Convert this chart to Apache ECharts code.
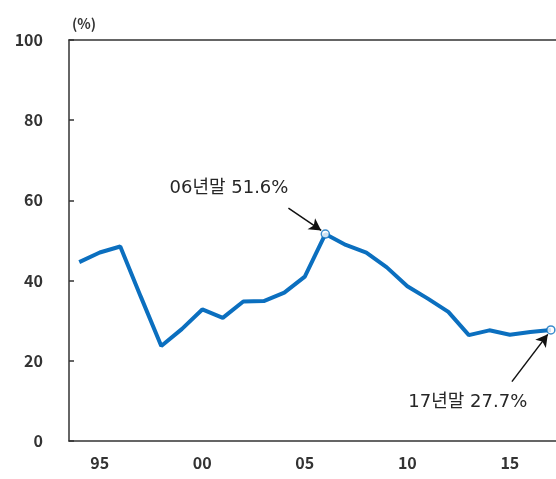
<!DOCTYPE html>
<html>
<head>
<meta charset="utf-8">
<script src="https://cdn.jsdelivr.net/npm/echarts@6/dist/echarts.min.js"></script>
<style>
  html, body { margin: 0; padding: 0; background: #fff; }
  #chart { width: 556px; height: 479px; }
</style>
</head>
<body>
<div id="chart"></div>
<script>
// data
const years = [1994, 1995, 1996, 1997, 1998, 1999, 2000, 2001, 2002, 2003, 2004, 2005,
  2006, 2007, 2008, 2009, 2010, 2011, 2012, 2013, 2014, 2015, 2016, 2017];
const ratio = [44.6, 47.0, 48.5, 36.0, 23.7, 27.9, 32.8, 30.7, 34.8, 34.9, 37.0, 41.0,
  51.6, 48.9, 47.0, 43.3, 38.6, 35.5, 32.2, 26.4, 27.6, 26.5, 27.2, 27.7];
const xLabels = [1995, 2000, 2005, 2010, 2015];
const yTicks = [0, 20, 40, 60, 80, 100];
const notes = [
  { text: "06년말 51.6%", at: [2001.3, 62.9], from: [2004.2, 58.1], to: [2005.8, 52.5] },
  { text: "17년말 27.7%", at: [2012.95, 9.6], from: [2015.1, 14.8], to: [2016.85, 26.6] }
];

const font = "'Noto Sans CJK KR', 'Noto Sans', sans-serif";
const noteFont = "'DejaVu Sans', 'Noto Sans CJK KR', sans-serif";
const axisColor = "#333333";
const textColor = "#333333";
const blue = "#0b6fbf";

const chart = echarts.init(document.getElementById("chart"));

const points = years.map((y, i) => [y, ratio[i]]);
const hollow = [points[years.indexOf(2006)], points[points.length - 1]];

chart.setOption({
  animation: false,
  textStyle: { fontFamily: font },
  grid: { left: 69, right: 0, top: 40, bottom: 38 },
  xAxis: [
    {
      type: "value",
      min: 1993.5,
      max: 2017.25,
      splitLine: { show: false },
      axisLine: { show: true, lineStyle: { color: axisColor, width: 1.5 } },
      axisTick: { show: false },
      axisLabel: {
        customValues: xLabels,
        margin: 14,
        color: textColor,
        fontSize: 16,
        fontWeight: "bold",
        fontFamily: font,
        formatter: v => String(v % 100).padStart(2, "0")
      }
    },
    {
      type: "value",
      position: "top",
      min: 1993.5,
      max: 2017.25,
      splitLine: { show: false },
      axisLine: { show: true, onZero: false, lineStyle: { color: axisColor, width: 1.5 } },
      axisTick: { show: false },
      axisLabel: { show: false }
    }
  ],
  yAxis: {
    type: "value",
    min: 0,
    max: 100,
    interval: 20,
    name: "(%)",
    nameGap: 9,
    nameTextStyle: { color: textColor, fontSize: 14, fontWeight: "bold", fontFamily: font, align: "left", padding: [0, 0, 0, 3] },
    splitLine: { show: false },
    axisLine: { show: true, lineStyle: { color: axisColor, width: 1.5 } },
    axisTick: { show: true, inside: true, length: 5, lineStyle: { color: axisColor, width: 1.5 } },
    axisLabel: {
      margin: 26,
      color: textColor,
      fontSize: 16,
      fontWeight: "bold",
      fontFamily: font,
      customValues: yTicks
    }
  },
  series: [
    {
      type: "line",
      data: points,
      symbol: "none",
      lineStyle: { color: blue, width: 4 },
      z: 2,
      markLine: {
        silent: true,
        symbol: ["none", "arrow"],
        symbolSize: [10, 12],
        label: { show: false },
        lineStyle: { color: "#111", width: 1.5, type: "solid" },
        data: notes.map(n => [{ coord: n.from }, { coord: n.to }])
      },
      markPoint: {
        silent: true,
        symbol: "circle",
        symbolSize: 0,
        label: {
          show: true,
          position: "inside",
          color: "#262626",
          fontSize: 18,
          fontFamily: noteFont,
          formatter: p => p.name
        },
        data: notes.map(n => ({ name: n.text, coord: n.at }))
      }
    },
    {
      type: "scatter",
      data: hollow,
      symbol: "circle",
      symbolSize: 8,
      itemStyle: { color: "#fff", borderColor: blue, borderWidth: 1.5 },
      z: 3
    }
  ]
});
</script>
</body>
</html>
